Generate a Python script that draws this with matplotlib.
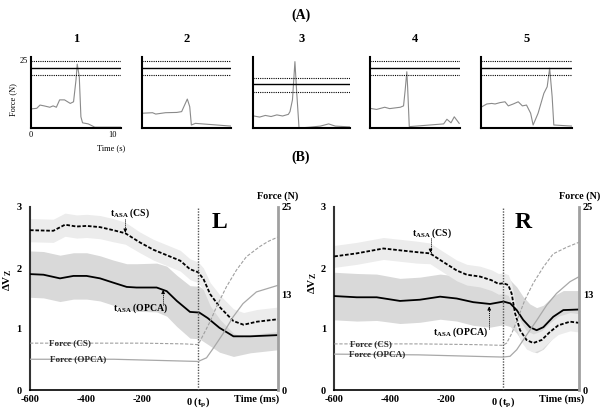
import numpy as np
import matplotlib
matplotlib.use("Agg")
import matplotlib.pyplot as plt

plt.rcParams['font.family'] = ['Liberation Serif', 'DejaVu Serif']
plt.rcParams['mathtext.fontset'] = 'custom'
plt.rcParams['mathtext.rm'] = 'Liberation Serif:bold'
plt.rcParams['mathtext.it'] = 'Liberation Serif:bold'
plt.rcParams['mathtext.bf'] = 'Liberation Serif:bold'

# ---- (A) single trials: force traces (N) vs time (s)
trial_t = [
    [0, 0.7, 1.1, 1.6, 2.3, 2.7, 3.1, 3.5, 4.1, 4.8, 5.2, 5.5, 5.65, 5.9, 6.1, 6.3, 7.0, 7.8, 11.0],
    [0, 1.3, 1.7, 2.9, 4.3, 4.9, 5.6, 5.9, 6.1, 6.6, 11.0],
    [0.1, 0.8, 1.5, 2.2, 2.9, 3.6, 4.3, 4.5, 4.8, 5.1, 5.3, 5.6, 5.65, 6.9, 8.2, 9.2, 10.0, 11.8],
    [0, 0.8, 1.8, 2.4, 3.7, 4.1, 4.3, 4.5, 4.6, 4.8, 9.0, 9.4, 9.9, 10.3, 10.9],
    [0, 0.7, 1.3, 1.7, 2.3, 2.9, 3.3, 3.9, 4.5, 5.0, 5.5, 6.0, 6.3, 6.9, 7.6, 8.0, 8.3, 8.6, 8.8, 11.0],
]
trial_f = [
    [7.0, 7.2, 8.4, 8.1, 7.6, 8.1, 7.6, 10.3, 10.3, 9.0, 9.6, 17.6, 23.4, 18.8, 4.1, 1.9, 1.5, 0.3, 0.3],
    [5.4, 5.6, 5.1, 5.6, 5.7, 6.0, 10.6, 7.8, 1.1, 1.7, 0.7],
    [4.4, 4.0, 4.6, 4.2, 4.8, 4.4, 5.0, 6.0, 10.3, 24.3, 13.9, 0.0, 0.0, 0.3, 0.7, 1.5, 0.7, 0.4],
    [7.2, 6.8, 7.6, 7.1, 7.6, 8.1, 13.9, 20.6, 14.9, 0.5, 1.5, 3.2, 1.9, 4.1, 1.7],
    [7.6, 8.8, 9.0, 8.8, 9.3, 9.6, 8.1, 8.8, 9.6, 8.1, 8.4, 5.4, 1.1, 5.4, 12.7, 15.1, 21.9, 11.5, 1.1, 0.7],
]
# target force (solid) with upper / lower limits (dotted)
trial_target = [22.0, 22.0, 16.0, 22.0, 22.0]
trial_upper = [24.5, 24.5, 18.4, 24.5, 24.5]
trial_lower = [19.4, 19.4, 13.3, 19.4, 19.4]
trial_names = ['1', '2', '3', '4', '5']
trial_tmax = [11, 11, 11.8, 11, 11]

# ---- (B) averaged ΔVz (left axis) and force (right axis, N) vs time (ms)
t_cs_L = [-600, -517, -475, -434, -398, -350, -303, -260, -208, -160, -112, -64, -29, 0, 19, 43, 79, 126, 162, 210, 285]
cs_L = [2.62, 2.61, 2.71, 2.68, 2.69, 2.67, 2.62, 2.57, 2.42, 2.30, 2.21, 2.12, 1.98, 1.93, 1.82, 1.57, 1.35, 1.13, 1.07, 1.12, 1.16]
cs_L_sd = [0.19, 0.19, 0.19, 0.19, 0.19, 0.19, 0.19, 0.18, 0.17, 0.17, 0.17, 0.17, 0.17, 0.17, 0.18, 0.19, 0.2, 0.2, 0.2, 0.2, 0.2]
t_op_L = [-600, -552, -493, -445, -398, -350, -303, -255, -220, -148, -112, -76, -29, 4, 34, 76, 126, 186, 285]
op_L = [1.90, 1.89, 1.83, 1.87, 1.87, 1.83, 1.76, 1.69, 1.68, 1.68, 1.62, 1.46, 1.28, 1.27, 1.18, 1.02, 0.88, 0.88, 0.90]
op_L_sd = [0.38, 0.38, 0.38, 0.38, 0.38, 0.37, 0.37, 0.38, 0.39, 0.40, 0.41, 0.42, 0.43, 0.43, 0.43, 0.40, 0.33, 0.27, 0.24]
t_fcs_L = [-600, -400, -200, -50, 0, 18, 42, 66, 101, 137, 172, 220, 250, 285]
fcs_L = [6.4, 6.4, 6.4, 6.3, 6.2, 7.5, 9.3, 11.4, 14.1, 16.4, 18.2, 19.6, 20.3, 20.9]
t_fop_L = [-600, -300, -100, 0, 30, 54, 89, 125, 160, 208, 285]
fop_L = [4.2, 4.2, 4.0, 3.9, 4.4, 5.7, 7.7, 10.0, 11.8, 13.4, 14.3]

t_cs_R = [-600, -520, -425, -366, -306, -259, -212, -164, -128, -81, -40, -15, 3, 20, 32, 44, 62, 85, 109, 139, 168, 198, 240, 273]
cs_R = [2.19, 2.24, 2.32, 2.29, 2.26, 2.24, 2.10, 1.96, 1.89, 1.86, 1.80, 1.74, 1.75, 1.72, 1.58, 1.26, 0.98, 0.82, 0.77, 0.82, 0.95, 1.06, 1.12, 1.10]
cs_R_sd = [0.18, 0.18, 0.18, 0.18, 0.18, 0.17, 0.17, 0.17, 0.17, 0.17, 0.17, 0.17, 0.17, 0.17, 0.17, 0.17, 0.16, 0.15, 0.15, 0.15, 0.15, 0.15, 0.15, 0.15]
t_op_R = [-600, -520, -449, -366, -295, -223, -164, -105, -45, 3, 27, 50, 73, 97, 121, 145, 180, 216, 273]
op_R = [1.54, 1.52, 1.52, 1.46, 1.48, 1.53, 1.50, 1.44, 1.41, 1.45, 1.42, 1.31, 1.15, 1.03, 0.98, 1.03, 1.20, 1.31, 1.32]
op_R_sd = [0.39, 0.39, 0.38, 0.37, 0.37, 0.37, 0.37, 0.38, 0.38, 0.38, 0.38, 0.38, 0.38, 0.38, 0.37, 0.36, 0.34, 0.32, 0.31]
t_fcs_R = [-600, -300, -100, 0, 14, 32, 56, 79, 109, 145, 180, 228, 273]
fcs_R = [6.3, 6.3, 6.2, 6.1, 6.4, 7.7, 10.0, 12.3, 14.6, 16.8, 18.6, 19.5, 20.2]
t_fop_R = [-600, -300, -100, 0, 26, 50, 85, 121, 157, 192, 240, 273]
fop_R = [4.9, 4.8, 4.6, 4.5, 4.6, 5.5, 7.5, 9.5, 11.6, 13.2, 14.8, 15.5]

W, H = 603, 411
fig = plt.figure(figsize=(W / 100, H / 100), dpi=100)

def fx(px):
    return px / W

def fy(py):
    return 1 - py / H

# ---------------- panel A ----------------
a_left = [31, 142, 253, 370, 481]
a_right = [121, 231, 350, 460, 572]
for i in range(5):
    ax = fig.add_axes([fx(a_left[i]), fy(128), fx(a_right[i] - a_left[i]), 71 / H])
    ax.plot(trial_t[i], trial_f[i], color='#8a8a8a', lw=0.8)
    ax.axhline(trial_target[i], color='black', lw=1.0)
    ax.axhline(trial_upper[i], color='black', lw=0.8, ls=(0, (1, 1)))
    ax.axhline(trial_lower[i], color='black', lw=0.8, ls=(0, (1, 1)))
    ax.set_xlim(0, trial_tmax[i])
    ax.set_ylim(0, 26)
    for s in ['top', 'right']:
        ax.spines[s].set_visible(False)
    for s in ['left', 'bottom']:
        ax.spines[s].set_linewidth(1.5)
    ax.tick_params(length=0, labelsize=6, pad=2)
    if i == 0:
        ax.set_xticks([0, 10])
        ax.set_yticks([25])
    else:
        ax.set_xticks([])
        ax.set_yticks([])
    fig.text(fx((a_left[i] + a_right[i]) / 2), fy(39), trial_names[i],
             ha='center', va='center', fontsize=9, fontweight='bold')

fig.text(fx(13), fy(100), 'Force (N)', rotation=90, ha='center', va='center', fontsize=6)
fig.text(fx(111), fy(148), 'Time (s)', ha='center', va='center', fontsize=6)
fig.text(fx(301), fy(15), '(A)', ha='center', va='center', fontsize=10, fontweight='bold')
fig.text(fx(301), fy(157), '(B)', ha='center', va='center', fontsize=10, fontweight='bold')

# ---------------- panel B ----------------
def draw_side(left_px, width_px, tmax, t_cs, cs, cs_sd, t_op, op, op_sd,
              t_fcs, fcs, t_fop, fop, side, ylab_px, ann):
    ax = fig.add_axes([fx(left_px), fy(390), fx(width_px), 183 / H])
    cs = np.array(cs); op = np.array(op)
    ax.fill_between(t_op, op - np.array(op_sd), op + np.array(op_sd), color='#d9d9d9', lw=0, zorder=1)
    ax.fill_between(t_cs, cs - np.array(cs_sd), cs + np.array(cs_sd), color='#ececec', lw=0, zorder=1.5)
    ax.plot(t_op, op, color='black', lw=1.3, zorder=3)
    ax.plot(t_cs, cs, color='black', lw=1.3, ls=(0, (2, 1)), zorder=3)
    ax.axvline(0, color='#555555', lw=1.0, ls=(0, (1, 1)), zorder=4)
    ax.set_xlim(-600, tmax)
    ax.set_ylim(0, 3)
    ax.set_yticks([0, 1, 2, 3])
    ax.set_xticks([-600, -400, -200, 0, 210])
    ax.set_xticklabels(['-600', '-400', '-200', r'0 (t$_{\mathrm{p}}$)', 'Time (ms)'])
    ax.spines['top'].set_visible(False)
    ax.spines['right'].set_visible(False)
    ax.spines['left'].set_linewidth(1.5)
    ax.spines['left'].set_color('#333333')
    ax.spines['bottom'].set_linewidth(1.2)
    ax.tick_params(axis='y', length=0, pad=6, labelsize=7.5)
    ax.tick_params(axis='x', length=0, pad=3.5, labelsize=7.5)
    for lab in ax.get_xticklabels() + ax.get_yticklabels():
        lab.set_fontweight('bold')

    ax2 = ax.twinx()
    ax2.plot(t_fop, fop, color='#a8a8a8', lw=0.9)
    ax2.plot(t_fcs, fcs, color='#a0a0a0', lw=0.8, ls=(0, (3, 1.5)))
    ax2.set_ylim(0, 25)
    ax2.set_yticks([0, 13, 25])
    for s in ['top', 'left', 'bottom']:
        ax2.spines[s].set_visible(False)
    ax2.spines['right'].set_color('#a0a0a0')
    ax2.spines['right'].set_linewidth(2)
    ax2.tick_params(axis='y', length=0, pad=2.5, labelsize=7.5)
    for lab in ax2.get_yticklabels():
        lab.set_fontweight('bold')
    ax2.text(1.0, 1.06, 'Force (N)', transform=ax.transAxes, ha='center', va='center',
             fontsize=7.3, fontweight='bold')

    # force labels sitting on the force traces
    ax2.text(ann['fcs'][0], fcs[0], 'Force (CS)', ha='center', va='center', fontsize=6.6, fontweight='bold', color='#2a2a2a')
    ax2.text(ann['fop'][0], fop[0], 'Force (OPCA)', ha='center', va='center', fontsize=6.6, fontweight='bold', color='#2a2a2a')

    # t_ASA markers
    for key in ['cs', 'op']:
        tx, ty, ha, at, a0, a1 = ann[key]
        label = r't$_{\mathrm{ASA}}$ (CS)' if key == 'cs' else r't$_{\mathrm{ASA}}$ (OPCA)'
        ax.text(tx, ty, label, ha=ha, va='center', fontsize=7, fontweight='bold', zorder=5)
        ax.plot([at, at], [a0, a1], color='black', lw=0.7, ls=(0, (1, 1)), zorder=5)
        d = 0.06 if a1 > a0 else -0.06
        ax.annotate('', xy=(at, a1), xytext=(at, a1 - d),
                    arrowprops=dict(arrowstyle='-|>', lw=0.6, color='black',
                                    mutation_scale=5, shrinkA=0, shrinkB=0), zorder=5)

    ax.text(ann['side'][0], ann['side'][1], side, ha='center', va='center',
            fontsize=17, fontweight='bold', zorder=5)
    fig.text(fx(ylab_px[0]), fy(ylab_px[1]), r'ΔV$_{\mathrm{Z}}$', rotation=90,
             ha='center', va='center', fontsize=8, fontweight='bold')
    return ax

draw_side(30, 248, 285, t_cs_L, cs_L, cs_L_sd, t_op_L, op_L, op_L_sd,
          t_fcs_L, fcs_L, t_fop_L, fop_L, 'L', (8, 280),
          {'cs': (-242, 2.90, 'center', -260, 2.80, 2.58),
           'op': (-107, 1.34, 'right', -125, 1.40, 1.64),
           'fcs': (-457,), 'fop': (-430,), 'side': (77, 2.74)})
draw_side(334.3, 245, 273, t_cs_R, cs_R, cs_R_sd, t_op_R, op_R, op_R_sd,
          t_fcs_R, fcs_R, t_fop_R, fop_R, 'R', (313, 283),
          {'cs': (-250, 2.57, 'center', -257, 2.49, 2.25),
           'op': (-52, 0.95, 'right', -48, 1.00, 1.37),
           'fcs': (-469,), 'fop': (-446,), 'side': (72, 2.75)})

fig.savefig('out.png', dpi=100)
